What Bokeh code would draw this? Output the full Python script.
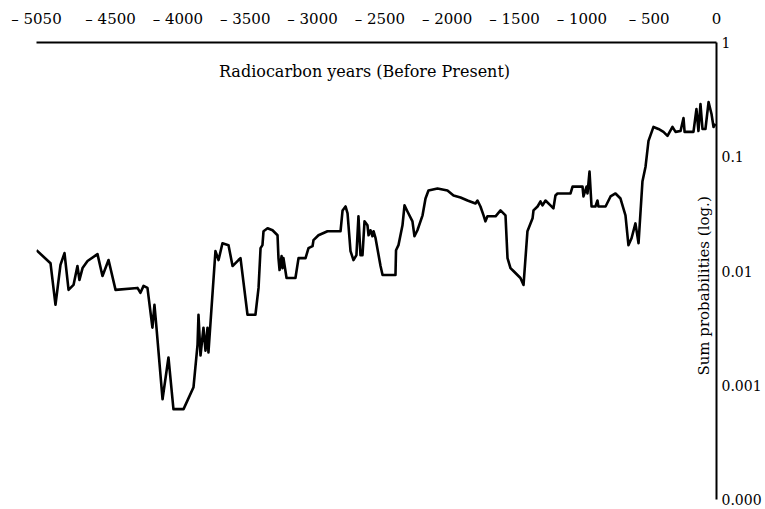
from bokeh.plotting import figure
from bokeh.models import Range1d, FixedTicker, Label
from bokeh.embed import file_html
from bokeh.resources import INLINE
import math

# ---- data ----
years = [-5050, -4946, -4909, -4872, -4842, -4812, -4775, -4746, -4731, -4708,
         -4671, -4597, -4560, -4515, -4463, -4300, -4278, -4255, -4226, -4189,
         -4174, -4159, -4114, -4070, -4033, -3958, -3884, -3854, -3847, -3832,
         -3810, -3795, -3780, -3773, -3721, -3698, -3669, -3624, -3594, -3550,
         -3535, -3483, -3424, -3401, -3386, -3372, -3364, -3334, -3297, -3260,
         -3253, -3245, -3230, -3223, -3216, -3193, -3127, -3104, -3052, -3030,
         -3000, -2993, -2956, -2889, -2792, -2777, -2755, -2740, -2718, -2696,
         -2674, -2659, -2644, -2629, -2614, -2592, -2584, -2570, -2555, -2547,
         -2532, -2495, -2480, -2384, -2380, -2362, -2332, -2317, -2295, -2258,
         -2243, -2221, -2183, -2161, -2139, -2072, -1998, -1953, -1901, -1849,
         -1790, -1775, -1753, -1730, -1716, -1701, -1641, -1604, -1567, -1552,
         -1530, -1508, -1456, -1433, -1404, -1366, -1359, -1329, -1307, -1292,
         -1270, -1233, -1211, -1196, -1181, -1084, -1069, -995, -988, -965,
         -958, -943, -928, -899, -884, -877, -824, -787, -750, -713,
         -676, -654, -631, -602, -579, -550, -527, -505, -468, -431,
         -394, -364, -327, -304, -267, -245, -237, -171, -149, -134,
         -119, -104, -82, -59, -37, -22, -7]

probs = [0.0152, 0.0117, 0.00506, 0.0113, 0.01435, 0.00684, 0.00755, 0.01105, 0.00835, 0.0106,
         0.01222, 0.01406, 0.00905, 0.01247, 0.00684, 0.00711, 0.00644, 0.00741, 0.00711, 0.00319,
         0.00506, 0.00319, 0.000755, 0.00175, 0.000618, 0.000618, 0.000961, 0.00227, 0.00414, 0.00182,
         0.00319, 0.00201, 0.00319, 0.00194, 0.01493, 0.01247, 0.0175, 0.01683, 0.01105, 0.01247,
         0.01297, 0.00414, 0.00414, 0.00711, 0.01585, 0.01683, 0.0223, 0.02366, 0.02274, 0.02056,
         0.01297, 0.0102, 0.0135, 0.0106, 0.01297, 0.00869, 0.00869, 0.01297, 0.01297, 0.01585,
         0.01649, 0.01862, 0.02056, 0.0223, 0.0223, 0.0339, 0.0367, 0.0319, 0.01493, 0.01247,
         0.01377, 0.0301, 0.01377, 0.01377, 0.0272, 0.0251, 0.02056, 0.02274, 0.02015, 0.0223,
         0.01936, 0.01105, 0.00923, 0.00923, 0.0152, 0.01683, 0.0251, 0.0375, 0.0332, 0.0272,
         0.02015, 0.02274, 0.0307, 0.0431, 0.0506, 0.0527, 0.0506, 0.0458, 0.044, 0.0414,
         0.039, 0.0414, 0.0367, 0.0307, 0.0272, 0.0301, 0.0301, 0.0339, 0.0307, 0.01297,
         0.0106, 0.01, 0.00869, 0.00755, 0.0223, 0.0289, 0.0339, 0.0367, 0.0406, 0.0375,
         0.0414, 0.0375, 0.0353, 0.0458, 0.0477, 0.0477, 0.0548, 0.0548, 0.0449, 0.0548,
         0.0477, 0.0741, 0.0367, 0.0367, 0.0414, 0.0367, 0.0367, 0.0449, 0.0477, 0.0431,
         0.0307, 0.01683, 0.01936, 0.0261, 0.0175, 0.0606, 0.0818, 0.1377, 0.1824, 0.175,
         0.165, 0.1524, 0.1824, 0.165, 0.168, 0.2184, 0.165, 0.165, 0.2614, 0.168,
         0.289, 0.175, 0.175, 0.301, 0.2365, 0.1824, 0.194]

x_ticks = [-5050, -4500, -4000, -3500, -3000, -2500, -2000, -1500, -1000, -500, 0]
x_tick_labels = ["\u2013 5050", "\u2013 4500", "\u2013 4000", "\u2013 3500", "\u2013 3000",
                 "\u2013 2500", "\u2013 2000", "\u2013 1500", "\u2013 1000", "\u2013 500", "0"]
y_ticks = [0.0001, 0.001, 0.01, 0.1, 1.0]
y_tick_labels = ["0.000", "0.001", "0.01", "0.1", "1"]

x_title = "Radiocarbon years (Before Present)"
y_title = "Sum probabilities (log.)"

FONT = "DejaVu Serif"

p = figure(width=765, height=509, output_backend="svg", toolbar_location=None,
           x_axis_location="above", y_axis_location="right",
           y_axis_type="log",
           x_range=Range1d(-5050, 0), y_range=Range1d(0.0001, 1.0),
           min_border_left=36, min_border_top=42, min_border_right=49, min_border_bottom=10)

p.background_fill_color = "white"
p.border_fill_color = "white"
p.outline_line_color = None
p.xgrid.visible = False
p.ygrid.visible = False

p.line(years, probs, line_color="black", line_width=2.6, line_join="round")

# top x axis
xa = p.xaxis[0]
xa.ticker = FixedTicker(ticks=x_ticks)
xa.major_label_overrides = dict(zip(x_ticks, x_tick_labels))
xa.major_tick_line_color = None
xa.minor_tick_line_color = None
xa.major_tick_out = 0
xa.major_tick_in = 0
xa.minor_tick_out = 0
xa.minor_tick_in = 0
xa.axis_line_color = "black"
xa.axis_line_width = 2
xa.major_label_text_font = FONT
xa.major_label_text_font_size = "15px"
xa.major_label_text_color = "black"
xa.major_label_standoff = 15

# right y axis
ya = p.yaxis[0]
ya.ticker = FixedTicker(ticks=y_ticks)
ya.major_label_overrides = dict(zip(y_ticks, y_tick_labels))
ya.major_tick_line_color = None
ya.minor_tick_line_color = None
ya.major_tick_out = 0
ya.major_tick_in = 0
ya.minor_tick_out = 0
ya.minor_tick_in = 0
ya.axis_line_color = "black"
ya.axis_line_width = 2
ya.major_label_text_font = FONT
ya.major_label_text_font_size = "14px"
ya.major_label_text_color = "black"
ya.major_label_standoff = 5

# axis titles placed inside the plot, as in the reference
p.add_layout(Label(x=-2614, y=0.56, text=x_title, text_font=FONT, text_font_size="16px",
                   text_color="black", text_align="center", text_baseline="middle"))
p.add_layout(Label(x=-96, y=0.0074, text=y_title, text_font=FONT, text_font_size="15px",
                   text_color="black", text_align="center", text_baseline="middle",
                   angle=math.pi / 2))

open("out.html", "w").write(file_html(p, INLINE))
